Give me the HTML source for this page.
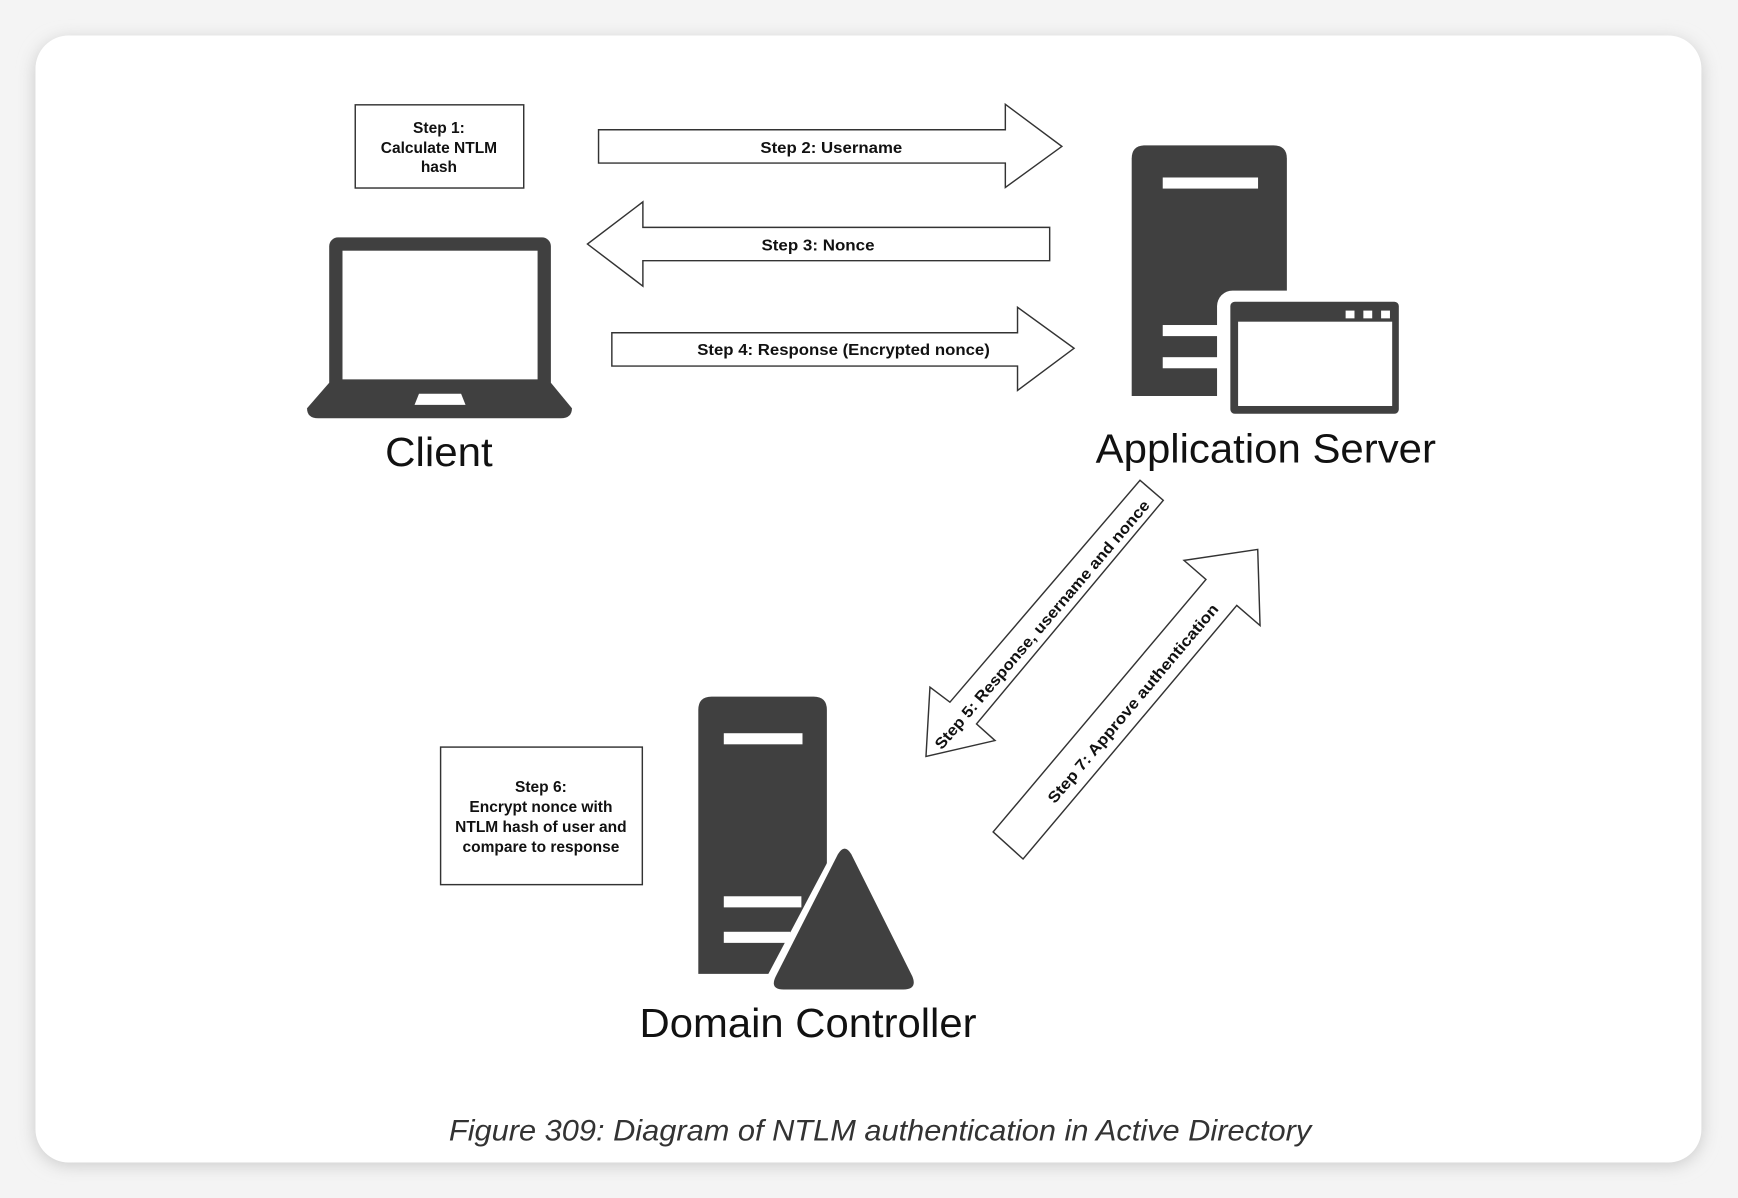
<!DOCTYPE html>
<html><head><meta charset="utf-8"><style>
html,body{margin:0;padding:0;background:#f2f2f2;}
svg{display:block}
</style></head><body>
<svg width="1738" height="1198" viewBox="0 0 1568 1080" preserveAspectRatio="none" xmlns="http://www.w3.org/2000/svg">
<defs><filter id="sh" x="-5%" y="-5%" width="110%" height="110%"><feGaussianBlur stdDeviation="8"/></filter></defs>
<rect width="1568" height="1080" fill="#f4f4f4"/>
<rect x="32" y="36" width="1503" height="1014" rx="30" fill="#c8c8c8" filter="url(#sh)"/>
<rect x="32" y="32" width="1503" height="1016" rx="30" fill="#fff"/>
<g font-family="Liberation Sans, Arial, sans-serif" font-weight="bold" font-size="14" fill="#111" text-anchor="middle">
<rect x="320.5" y="94.5" width="152" height="75" fill="#fff" stroke="#333" stroke-width="1.3"/>
<text x="396" y="120">Step 1:</text><text x="396" y="138">Calculate NTLM</text><text x="396" y="155">hash</text>
<polygon points="540,117 907,117 907,94 958,132 907,169 907,147 540,147" fill="#fff" stroke="#333" stroke-width="1.3"/>
<text x="750" y="138" textLength="128" lengthAdjust="spacingAndGlyphs">Step 2: Username</text>
<polygon points="947,205 580,205 580,182 530,220 580,258 580,235 947,235" fill="#fff" stroke="#333" stroke-width="1.3"/>
<text x="738" y="226" textLength="102" lengthAdjust="spacingAndGlyphs">Step 3: Nonce</text>
<polygon points="552,300 918,300 918,277 969,314 918,352 918,330 552,330" fill="#fff" stroke="#333" stroke-width="1.3"/>
<text x="761" y="320" textLength="264" lengthAdjust="spacingAndGlyphs">Step 4: Response (Encrypted nonce)</text>
<polygon points="1028.5,433 1049.5,451 881,652.6 897.7,667.6 835.4,682 839,619.5 857,633" fill="#fff" stroke="#333" stroke-width="1.3"/>
<text transform="translate(940,563) rotate(-49.5)" y="5" textLength="290" lengthAdjust="spacingAndGlyphs">Step 5: Response, username and nonce</text>
<polygon points="896,750 923,774.4 1115.8,545.8 1136.8,563.9 1134.7,495.3 1068.2,505.2 1088,522.4" fill="#fff" stroke="#333" stroke-width="1.3"/>
<text transform="translate(1022,634) rotate(-49.8)" y="5" textLength="230" lengthAdjust="spacingAndGlyphs">Step 7: Approve authentication</text>
<rect x="397.5" y="673.5" width="182" height="124" fill="#fff" stroke="#333" stroke-width="1.3"/>
<text x="488" y="714">Step 6:</text><text x="488" y="732">Encrypt nonce with</text><text x="488" y="750">NTLM hash of user and</text><text x="488" y="768">compare to response</text>
</g>
<g fill="#404040">
<rect x="297" y="214" width="200" height="140" rx="8"/>
<rect x="309" y="226" width="176" height="116" fill="#fff"/>
<path d="M297,345 L497,345 L516,368 Q516,377 506,377 L287,377 Q277,377 277,368 Z"/>
<polygon points="378,355 416,355 420,365 374,365" fill="#fff"/>
</g>
<g fill="#404040">
<path d="M1021,357 L1021,143 Q1021,131 1033,131 L1149,131 Q1161,131 1161,143 L1161,357 Z"/>
<rect x="1049" y="160" width="86" height="10" fill="#fff"/>
<rect x="1049" y="293" width="55" height="10" fill="#fff"/>
<rect x="1049" y="322" width="55" height="10" fill="#fff"/>
<rect x="1098" y="262" width="172" height="120" rx="14" fill="#fff"/>
<rect x="1110" y="272" width="152" height="101" rx="4"/>
<rect x="1117" y="290" width="139" height="76" fill="#fff"/>
<rect x="1214" y="280" width="8" height="7" fill="#fff"/>
<rect x="1230" y="280" width="8" height="7" fill="#fff"/>
<rect x="1246" y="280" width="8" height="7" fill="#fff"/>
</g>
<g fill="#404040">
<path d="M630,878 L630,640 Q630,628 642,628 L734,628 Q746,628 746,640 L746,878 Z"/>
<rect x="653" y="661" width="71" height="10" fill="#fff"/>
<rect x="653" y="808" width="70" height="10" fill="#fff"/>
<rect x="653" y="840" width="60" height="10" fill="#fff"/>
<polygon points="762,748 690,884 690,900 845,900" fill="#fff"/>
<path d="M756,770 Q762,760 768,770 L823,880 Q828,892 815,892 L707,892 Q694,892 700,880 Z"/>
</g>
<g font-family="Liberation Sans, Arial, sans-serif" font-size="37" fill="#111" text-anchor="middle" lengthAdjust="spacingAndGlyphs">
<text x="396" y="420" textLength="97" lengthAdjust="spacingAndGlyphs">Client</text>
<text x="1142" y="417" textLength="307" lengthAdjust="spacingAndGlyphs">Application Server</text>
<text x="729" y="935" textLength="304" lengthAdjust="spacingAndGlyphs">Domain Controller</text>
</g>
<text x="794" y="1028" font-family="Liberation Sans, Arial, sans-serif" font-style="italic" font-size="27" fill="#333" text-anchor="middle" textLength="778" lengthAdjust="spacingAndGlyphs">Figure 309: Diagram of NTLM authentication in Active Directory</text>
</svg>
</body></html>
